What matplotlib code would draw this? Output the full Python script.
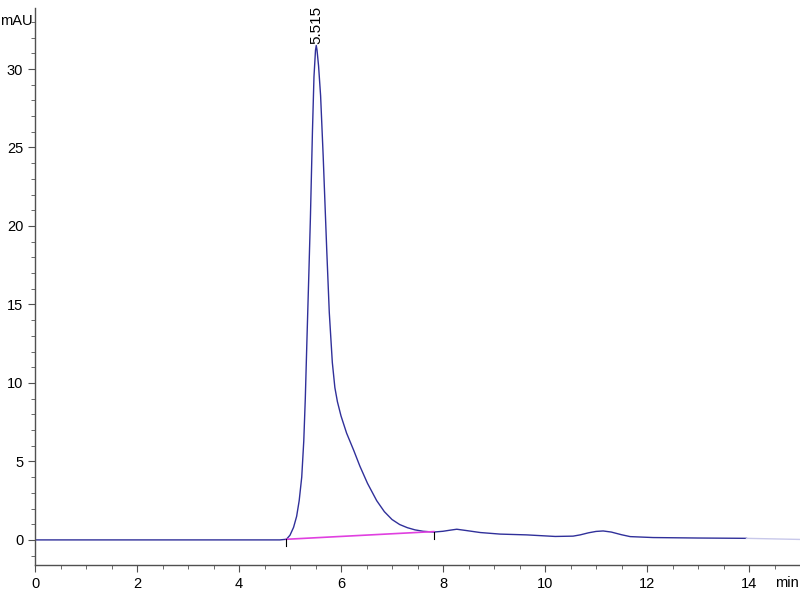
import matplotlib
matplotlib.use("Agg")
import numpy as np
from matplotlib import pyplot as plt
from matplotlib.ticker import MultipleLocator

plt.rcParams['font.family'] = ['Liberation Sans', 'DejaVu Sans']

# chromatogram trace (time in min, signal in mAU)
time_min = [0.0, 2.0, 4.0, 4.8, 4.93, 5.0, 5.07, 5.13, 5.18, 5.23, 5.27, 5.30,
            5.33, 5.37, 5.40, 5.44, 5.47, 5.50, 5.515, 5.53, 5.56, 5.60, 5.65,
            5.72, 5.77, 5.83, 5.88, 5.93, 6.0, 6.11, 6.25, 6.37, 6.52, 6.70,
            6.85, 7.0, 7.15, 7.30, 7.45, 7.61, 7.82, 8.0, 8.14, 8.27, 8.45,
            8.73, 9.12, 9.64, 10.2, 10.55, 10.69, 10.85, 11.0, 11.14, 11.3,
            11.5, 11.67, 12.12, 13.0, 13.95]
signal_mau = [0.0, 0.0, 0.0, 0.0, 0.04, 0.3, 0.8, 1.5, 2.5, 4.0, 6.3, 9.0,
              12.5, 17.0, 20.5, 26.0, 29.5, 31.2, 31.5, 31.2, 30.2, 28.3, 24.5,
              18.5, 14.5, 11.3, 9.7, 8.8, 7.9, 6.8, 5.7, 4.7, 3.6, 2.5,
              1.8, 1.3, 0.98, 0.78, 0.64, 0.55, 0.5, 0.55, 0.62, 0.68, 0.6,
              0.47, 0.37, 0.32, 0.22, 0.24, 0.32, 0.45, 0.54, 0.57, 0.5,
              0.33, 0.21, 0.15, 0.12, 0.1]
tail_time = [13.95, 15.0]
tail_signal = [0.1, 0.03]

# integration baseline of the main peak
base_time = [4.93, 7.82]
base_signal = [0.04, 0.53]

peak_rt = 5.515
peak_height = 31.5

fig = plt.figure(figsize=(8, 6), dpi=100)
ax = fig.add_axes([0.04375, 0.0583, 0.95625, 0.9287])

ax.plot(time_min, signal_mau, color='#30309a', lw=1.0)
ax.plot(tail_time, tail_signal, color='#c8c8ea', lw=1.0)
ax.plot(base_time, base_signal, color='#e040e0', lw=1.2)
for t, s in zip(base_time, base_signal):
    ax.plot([t, t], [s, s - 0.45], color='black', lw=0.8)

ax.text(peak_rt, peak_height + 0.1, f"{peak_rt:.3f}", rotation=90,
        ha='center', va='bottom', fontsize=11)

ax.set_xlim(0, 15)
ax.set_ylim(-1.6, 33.9)
ax.xaxis.set_major_locator(MultipleLocator(2))
ax.xaxis.set_minor_locator(MultipleLocator(0.5))
ax.yaxis.set_major_locator(MultipleLocator(5))
ax.yaxis.set_minor_locator(MultipleLocator(1))

for side in ['top', 'right']:
    ax.spines[side].set_visible(False)
for side in ['left', 'bottom']:
    ax.spines[side].set_color('#505050')
    ax.spines[side].set_linewidth(1.0)

ax.tick_params(which='major', length=5, color='#505050', labelsize=10.5)
ax.tick_params(which='minor', length=3, color='#505050')
ax.set_xticks([0, 2, 4, 6, 8, 10, 12, 14])

fig.text(0.0, 0.965, "mAU", fontsize=10.5, ha='left', va='center')
fig.text(0.999, 0.028, "min", fontsize=10.5, ha='right', va='center')

fig.savefig("out.png", dpi=100)
